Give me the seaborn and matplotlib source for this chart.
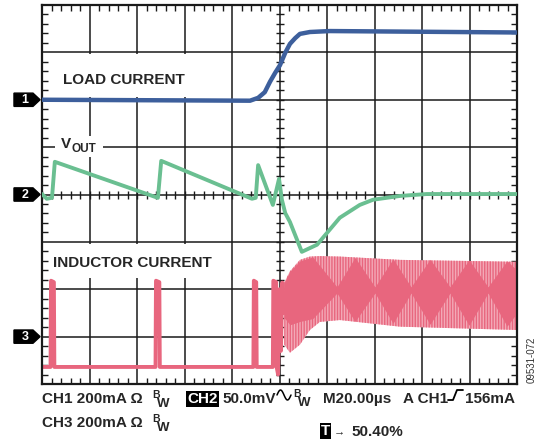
import matplotlib
matplotlib.use('Agg')
import matplotlib.pyplot as plt
import seaborn as sns
import numpy as np
import pandas as pd
from matplotlib.patches import Polygon, Rectangle
from matplotlib.lines import Line2D

# screen is 10 x 8 divisions, y centred on 0 (div units)
load_t=[0,4.38,4.55,4.69,4.8,4.91,5.01,5.12,5.22,5.33,5.43,5.64,6.06,10]
load_v=[2.0,1.98,2.04,2.16,2.38,2.57,2.73,2.99,3.18,3.30,3.39,3.43,3.45,3.42]

vout_t=[0,0.1,0.21,0.27,2.38,2.44,2.51,4.42,4.5,4.55,4.86,4.99,5.05,5.12,5.22,5.47,5.79,6.27,6.69,6.97,7.54,8.1,10]
vout_v=[0.01,-0.09,-0.07,0.69,-0.05,-0.07,0.71,-0.09,-0.07,0.62,-0.22,0.33,-0.11,-0.39,-0.58,-1.21,-1.06,-0.49,-0.22,-0.11,-0.03,0.01,0.01]

ind_t=[0,0.18,0.19,0.25,0.26,2.39,2.40,2.47,2.48,4.45,4.46,4.51,4.52,4.86,4.87,4.93,4.94,4.97,5.0,5.03,5.06,5.1]
ind_v=[-3.64,-3.64,-1.82,-1.85,-3.64,-3.64,-1.82,-1.85,-3.64,-3.64,-1.82,-1.85,-3.64,-3.64,-1.82,-1.85,-3.64,-3.8,-2.0,-3.3,-1.86,-2.5]

# switching envelope of inductor current
env_t=[5.1,5.22,5.43,5.64,5.85,6.27,7.54,10]
env_hi=[-1.86,-1.62,-1.38,-1.31,-1.30,-1.31,-1.38,-1.42]
env_lo=[-3.17,-3.34,-3.17,-2.86,-2.69,-2.65,-2.79,-2.86]

# dense core (beat pattern)
core_t=[5.1,5.22,5.43,5.7,6.21,6.59,7.01,7.39,7.77,8.17,8.59,8.99,9.39,9.79,10]
core_hi=[-1.86,-1.62,-1.40,-1.32,-1.95,-1.33,-1.95,-1.36,-1.95,-1.37,-1.95,-1.38,-1.95,-1.40,-1.6]
core_lo=[-2.6,-2.75,-2.68,-2.62,-2.08,-2.68,-2.08,-2.72,-2.08,-2.74,-2.08,-2.76,-2.08,-2.78,-2.5]

ch_levels=[2,0,-3]
ch_names=['1','2','3']

blue='#3d5f9c';green='#6abf91';pink='#e8667e';lpink='#f3a9b7'

sns.set_style('white')
plt.rcParams['font.family']=['Liberation Sans','DejaVu Sans']

W,H=538,447
def fx(x,y):
	return x/W,1-y/H

fig=plt.figure(figsize=(W/100,H/100),dpi=100)
ax=fig.add_axes([42/W,1-384/H,475/W,379/H])
ax.set_xlim(0,10);ax.set_ylim(-4,4)
ax.set_xticks(range(11));ax.set_yticks(range(-4,5))
ax.set_xticklabels([]);ax.set_yticklabels([])
ax.set_xticks(np.arange(0,10.01,0.2),minor=True)
ax.set_yticks(np.arange(-4,4.01,0.2),minor=True)
ax.tick_params(which='major',length=0)
ax.tick_params(which='minor',direction='in',length=4,width=1,color='#1a1a1a',top=True,bottom=True,left=True,right=True)
ax.grid(True,which='major',color='#1a1a1a',lw=1.1)
ax.set_axisbelow(True)
for s in ax.spines.values():
	s.set_color('#1a1a1a');s.set_linewidth(1.6)

# centre cross ticks
mt=np.arange(0,10.01,0.2);my=np.arange(-4,4.01,0.2)
ax.plot(mt,np.zeros_like(mt),ls='none',marker='|',ms=6,mew=1,color='#1a1a1a',zorder=1.2)
ax.plot(np.full_like(my,5),my,ls='none',marker='_',ms=6,mew=1,color='#1a1a1a',zorder=1.2)

# white boxes behind labels
ax.add_patch(Rectangle((0.27,2.06),3.06,0.91,facecolor='white',edgecolor='none',zorder=1.5))
ax.add_patch(Rectangle((0.27,0.79),1.01,0.45,facecolor='white',edgecolor='none',zorder=1.5))
ax.add_patch(Rectangle((0.17,-1.76),3.68,0.72,facecolor='white',edgecolor='none',zorder=1.5))

# inductor current
ax.fill_between(env_t,env_lo,env_hi,facecolor=lpink,edgecolor=pink,hatch='||||||',lw=0,zorder=2)
ax.fill_between(core_t,core_lo,core_hi,color=pink,lw=0,zorder=2.1)
ind=pd.DataFrame({'t':ind_t,'v':ind_v})
sns.lineplot(data=ind,x='t',y='v',ax=ax,color=pink,lw=2.8,sort=False,estimator=None,zorder=2.2)

vout=pd.DataFrame({'t':vout_t,'v':vout_v})
sns.lineplot(data=vout,x='t',y='v',ax=ax,color=green,lw=2.8,sort=False,estimator=None,zorder=3)
load=pd.DataFrame({'t':load_t,'v':load_v})
sns.lineplot(data=load,x='t',y='v',ax=ax,color=blue,lw=3.2,sort=False,estimator=None,zorder=3)
ax.set_xlabel('');ax.set_ylabel('')

# channel markers
for lv,nm in zip(ch_levels,ch_names):
	ax.add_patch(Polygon([(-0.59,lv-0.14),(-0.19,lv-0.14),(-0.04,lv),(-0.19,lv+0.14),(-0.59,lv+0.14)],closed=True,color='black',clip_on=False,zorder=5))
	ax.text(-0.36,lv,nm,color='white',fontsize=9,weight='bold',ha='center',va='center',clip_on=False,zorder=6)

# trace labels
fig.text(*fx(63,80),'LOAD CURRENT',fontsize=11,weight='bold',va='center')
fig.text(*fx(61,144),'V',fontsize=11,weight='bold',va='center')
fig.text(*fx(72,149),'OUT',fontsize=8.5,weight='bold',va='center')
fig.text(*fx(53,263),'INDUCTOR CURRENT',fontsize=11,weight='bold',va='center')

# scope settings readout
fs=11
def bw(x,y):
	fig.text(*fx(x,y-4),'B',fontsize=7.5,weight='bold',va='center')
	fig.text(*fx(x+5,y+5),'W',fontsize=9.5,weight='bold',va='center')

fig.text(*fx(42,399),'CH1 200mA Ω',fontsize=fs,weight='bold',va='center')
bw(152,399)
fig.text(*fx(187,399),'CH2',fontsize=fs,weight='bold',va='center',color='white',
	bbox=dict(facecolor='black',edgecolor='none',pad=0.8))
fig.text(*fx(222,399),'50.0mV',fontsize=fs,weight='bold',va='center')
sq=np.linspace(0,1,30)
fig.add_artist(Line2D([(277+14*s)/W for s in sq],[1-(395-5*np.sin(2*np.pi*s))/H for s in sq],color='black',lw=1.1))
bw(293,398)
fig.text(*fx(323,399),'M20.00µs',fontsize=fs,weight='bold',va='center')
fig.text(*fx(403,399),'A CH1',fontsize=fs,weight='bold',va='center')
ex=[448,453,457,463];ey=[400,400,390,390]
fig.add_artist(Line2D([x/W for x in ex],[1-y/H for y in ey],color='black',lw=1.3))
fig.text(*fx(465,399),'156mA',fontsize=fs,weight='bold',va='center')
fig.text(*fx(42,423),'CH3 200mA Ω',fontsize=fs,weight='bold',va='center')
bw(152,423)
fig.text(*fx(321,431),'T',fontsize=fs,weight='bold',va='center',color='white',
	bbox=dict(facecolor='black',edgecolor='none',pad=0.8))
fig.text(*fx(334,431),'→',fontsize=8,weight='bold',va='center')
fig.text(*fx(351,432),'50.40%',fontsize=fs,weight='bold',va='center')
fig.text(*fx(532,360),'09531-072',fontsize=7,color='#333333',rotation=90,ha='center',va='center')

plt.savefig('out.png',dpi=100)
plt.close()
